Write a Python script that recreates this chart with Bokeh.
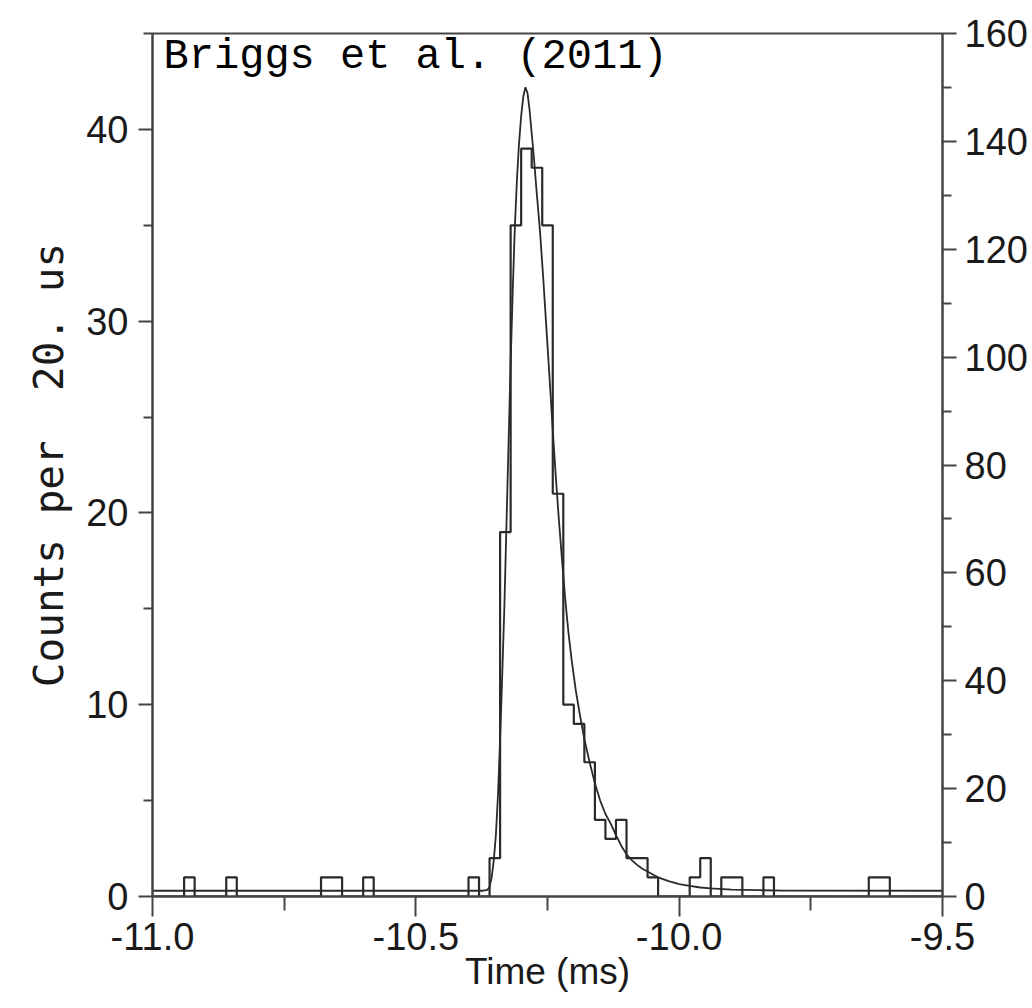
from bokeh.plotting import figure
from bokeh.models import Range1d, LinearAxis, FixedTicker, PrintfTickFormatter, Label
from bokeh.embed import file_html
from bokeh.resources import INLINE

# ---------------- data ----------------
bin_start = -11.0
bin_width = 0.02
counts = [0, 0, 0, 1, 0, 0, 0, 1, 0, 0,
          0, 0, 0, 0, 0, 0, 1, 1, 0, 0,
          1, 0, 0, 0, 0, 0, 0, 0, 0, 0,
          1, 0, 2, 19, 35, 39, 38, 35, 21, 10,
          9, 7, 4, 3, 4, 2, 2, 1, 0, 0,
          0, 1, 2, 0, 1, 1, 0, 0, 1, 0,
          0, 0, 0, 0, 0, 0, 0, 0, 1, 1,
          0, 0, 0, 0, 0]

fit_time = [-11.0, -10.372, -10.364, -10.360, -10.356, -10.352, -10.348, -10.344,
            -10.340, -10.336, -10.332, -10.328, -10.324, -10.320, -10.316, -10.312,
            -10.308, -10.304, -10.300, -10.296, -10.292, -10.288, -10.284, -10.280,
            -10.276, -10.272, -10.268, -10.264, -10.258, -10.252, -10.246, -10.240,
            -10.234, -10.228, -10.222, -10.216, -10.210, -10.204, -10.196, -10.188,
            -10.180, -10.170, -10.160, -10.150, -10.140, -10.130, -10.120, -10.110,
            -10.100, -10.090, -10.080, -10.070, -10.060, -10.050, -10.040, -10.020,
            -10.000, -9.980, -9.960, -9.940, -9.900, -9.850, -9.800, -9.500]
fit_counts = [0.3, 0.3, 0.35, 0.5, 1.0, 1.9, 3.2, 5.3,
              8.2, 11.5, 15.0, 19.3, 23.6, 27.8, 31.6, 34.9,
              37.4, 39.3, 40.7, 41.7, 42.2, 41.9, 41.0, 39.8,
              38.6, 37.2, 35.9, 34.6, 32.2, 29.6, 27.0, 24.3,
              21.8, 19.5, 17.4, 15.4, 13.7, 12.3, 10.7, 9.4,
              8.2, 7.0, 5.9, 5.0, 4.3, 3.8, 3.2, 2.65,
              2.2, 1.9, 1.65, 1.45, 1.3, 1.15, 1.0, 0.8,
              0.65, 0.55, 0.47, 0.42, 0.36, 0.33, 0.31, 0.3]

x_ticks = [-11.0, -10.5, -10.0, -9.5]
x_minor_ticks = [-10.75, -10.25, -9.75]
left_ticks = [0, 10, 20, 30, 40]
left_minor_ticks = [5, 15, 25, 35, 45]
right_ticks = [0, 20, 40, 60, 80, 100, 120, 140, 160]
right_minor_ticks = [10, 30, 50, 70, 90, 110, 130, 150]

title_text = "Briggs et al. (2011)"
x_label = "Time (ms)"
y_label = "Counts per\u00a0\u00a020. us"

# ---------------- figure ----------------
W, H = 1030, 1006
AX = "#444444"
TXT = "#1a1a1a"
SANS = "Liberation Sans"

p = figure(width=W, height=H,
           x_range=Range1d(-11.0, -9.5), y_range=Range1d(0, 45),
           output_backend="svg", toolbar_location=None,
           min_border_left=152, min_border_right=W - 943,
           min_border_top=33, min_border_bottom=H - 896)
p.background_fill_color = "white"
p.border_fill_color = "white"
p.outline_line_color = AX
p.outline_line_width = 2
p.xgrid.visible = False
p.ygrid.visible = False

# x axis
xa = p.xaxis[0]
xa.ticker = FixedTicker(ticks=x_ticks, minor_ticks=x_minor_ticks)
xa.formatter = PrintfTickFormatter(format="%.1f")
xa.major_tick_out = 20
xa.minor_tick_out = 14
xa.major_tick_in = 0
xa.minor_tick_in = 0
xa.major_label_standoff = 6
xa.axis_label = x_label
xa.axis_label_standoff = -2
xa.axis_label_text_font = SANS
xa.axis_label_text_font_size = "37px"

# left axis
ya = p.yaxis[0]
ya.ticker = FixedTicker(ticks=left_ticks, minor_ticks=left_minor_ticks)
ya.major_tick_out = 14
ya.minor_tick_out = 9
ya.major_tick_in = 0
ya.minor_tick_in = 0
ya.major_label_standoff = 10
ya.axis_label = y_label
ya.axis_label_standoff = 10
ya.axis_label_text_font = "DejaVu Sans Mono"
ya.axis_label_text_font_size = "41px"

# right axis
p.extra_y_ranges = {"right": Range1d(0, 160)}
ra = LinearAxis(y_range_name="right",
                ticker=FixedTicker(ticks=right_ticks, minor_ticks=right_minor_ticks))
ra.major_tick_out = 14
ra.minor_tick_out = 9
ra.major_tick_in = 0
ra.minor_tick_in = 0
ra.major_label_standoff = 8
p.add_layout(ra, "right")

for ax in (xa, ya, ra):
    ax.axis_line_color = AX
    ax.axis_line_width = 2
    ax.major_tick_line_color = AX
    ax.major_tick_line_width = 2
    ax.minor_tick_line_color = AX
    ax.minor_tick_line_width = 2
    ax.major_label_text_font = SANS
    ax.major_label_text_font_size = "38px"
    ax.major_label_text_color = TXT
    ax.axis_label_text_color = TXT
    ax.axis_label_text_font_style = "normal"

# histogram (step outline)
edges = [round(bin_start + i * bin_width, 4) for i in range(len(counts) + 1)]
p.step(x=edges, y=counts + [counts[-1]], mode="after",
       line_color="#2a2a2a", line_width=2.2)

# fitted pulse curve
p.line(fit_time, fit_counts, line_color="#2a2a2a", line_width=1.8)

# citation text
p.add_layout(Label(x=-10.979, y=43.75, text=title_text,
                   text_font="Liberation Mono", text_font_size="42px",
                   text_color="black", text_align="left",
                   text_baseline="alphabetic"))

open("out.html", "w").write(file_html(p, INLINE))
